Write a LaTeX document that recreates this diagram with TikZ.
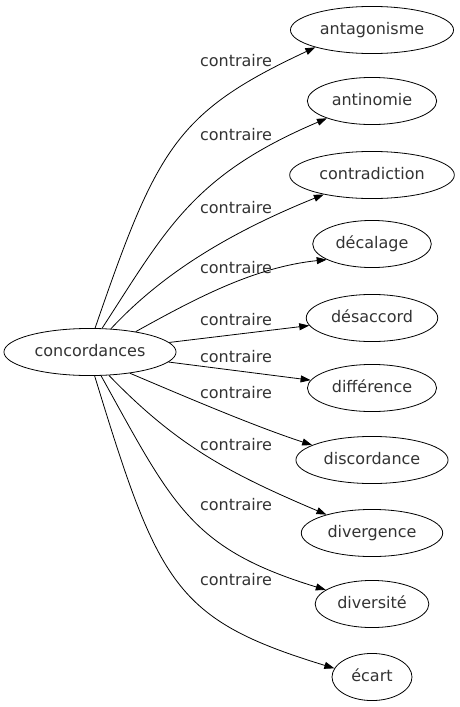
\documentclass[tikz,border=0pt]{standalone}
\usepackage{fontspec}
\setmainfont{DejaVu Sans}
\usetikzlibrary{arrows.meta,shapes.geometric}
\tikzset{
  word/.style={draw=black,ellipse,line width=0.8pt,inner xsep=5.5pt,inner ysep=8.9pt,
    text height=12pt,text depth=3.5pt,font=\fontsize{16}{18}\selectfont,text=black!80,
    minimum width=80pt},
  rel/.style={font=\fontsize{16}{18}\selectfont,inner sep=0pt,text=black!80},
  arr/.style={-{Triangle[length=10pt,width=7pt]},line width=0.8pt},
}
\begin{document}
\begin{tikzpicture}[x=1pt,y=-1pt]
  \useasboundingbox (0,0) rectangle (460,707);
  % source word
  \node[word] (conc) at (90,352) {concordances};
  % antonyms
  \node[word] (antagonisme) at (372,30) {antagonisme};
  \node[word] (antinomie) at (372,101) {antinomie};
  \node[word] (contradiction) at (372,175) {contradiction};
  \node[word] (decalage) at (372,244) {décalage};
  \node[word] (desaccord) at (372,318) {désaccord};
  \node[word] (difference) at (372,388) {différence};
  \node[word] (discordance) at (372,460) {discordance};
  \node[word] (divergence) at (372,533) {divergence};
  \node[word] (diversite) at (372,604) {diversité};
  \node[word] (ecart) at (372,677) {écart};
  % edge labels
  \node[rel] (l1) at (236,61) {contraire};
  \node[rel] (l2) at (236,135) {contraire};
  \node[rel] (l3) at (236,208) {contraire};
  \node[rel] (l4) at (236,268) {contraire};
  \node[rel] (l5) at (236,320) {contraire};
  \node[rel] (l6) at (236,357) {contraire};
  \node[rel] (l7) at (236,393) {contraire};
  \node[rel] (l8) at (236,445) {contraire};
  \node[rel] (l9) at (236,505) {contraire};
  \node[rel] (l10) at (236,580) {contraire};
  % edges
  \draw[arr] (conc.78) .. controls +(71:190pt) and +(205:154pt) .. (antagonisme.197);
  \draw[arr] (conc.63) .. controls +(57:118pt) and +(203:146pt) .. (antinomie.201);
  \draw[arr] (conc.48) .. controls +(47:65pt) and +(202:116pt) .. (contradiction.202);
  \draw[arr] (conc.24) .. controls +(29:69pt) and +(186:73pt) .. (decalage.199);
  \draw[arr] (conc) -- (desaccord);
  \draw[arr] (conc) -- (difference);
  \draw[arr] (conc.-28) .. controls +(-23:60pt) and +(162:60pt) .. (discordance.166);
  \draw[arr] (conc.-51) .. controls +(-46:99pt) and +(157:104pt) .. (divergence.158);
  \draw[arr] (conc.-65) .. controls +(-61:149pt) and +(163:141pt) .. (diversite.163);
  \draw[arr] (conc.-79) .. controls +(-73:219pt) and +(163:167pt) .. (ecart.167);
\end{tikzpicture}
\end{document}
